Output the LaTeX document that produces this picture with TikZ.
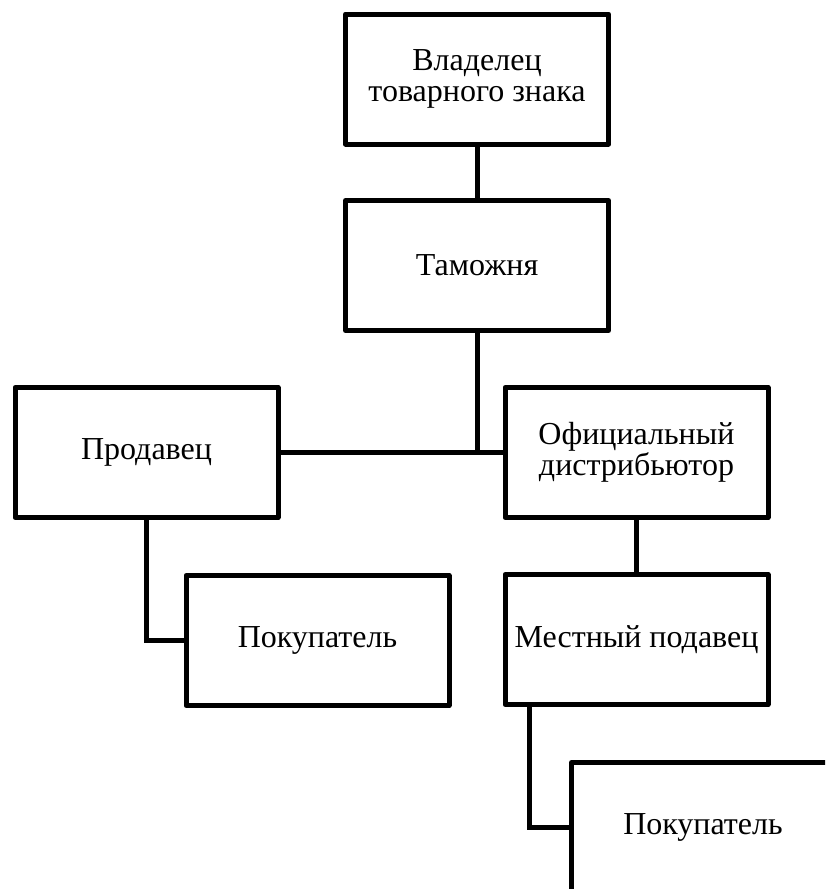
\documentclass[tikz,border=0pt]{standalone}
\usepackage{fontspec}
\setmainfont{Liberation Serif}
\begin{document}
\begin{tikzpicture}[x=1pt,y=-1pt,
  box/.style={draw, line width=5pt, line join=round, minimum width=263pt, minimum height=130pt,
    inner sep=0pt, align=center, font=\fontsize{32}{31}\selectfont},
  conn/.style={line width=5pt}]
\useasboundingbox (0,0) rectangle (825,889);
\clip (0,0) rectangle (825,889);
\node[box] (owner) at (477,79) {Владелец\\товарного знака};
\node[box] (customs) at (477,265.5) {Таможня};
\node[box] (seller) at (146.5,452.5) {Продавец};
\node[box] (dist) at (636.5,452.5) {Официальный\\дистрибьютор};
\node[box] (buyer1) at (317.5,640.5) {Покупатель};
\node[box] (local) at (636.5,639.5) {Местный подавец};
\node[box] (buyer2) at (703,827.5) {Покупатель};
\coordinate (j) at (customs.south |- seller.east);
\draw[conn] (owner.south) -- (customs.north);
\draw[conn] (customs.south) -- (j);
\draw[conn] (seller.east) -- (dist.west);
\draw[conn] (dist.south) -- (local.north);
\draw[conn] (seller.south) |- (buyer1.west);
\draw[conn] ([xshift=27pt]local.south west) |- (buyer2.west);
\end{tikzpicture}
\end{document}
